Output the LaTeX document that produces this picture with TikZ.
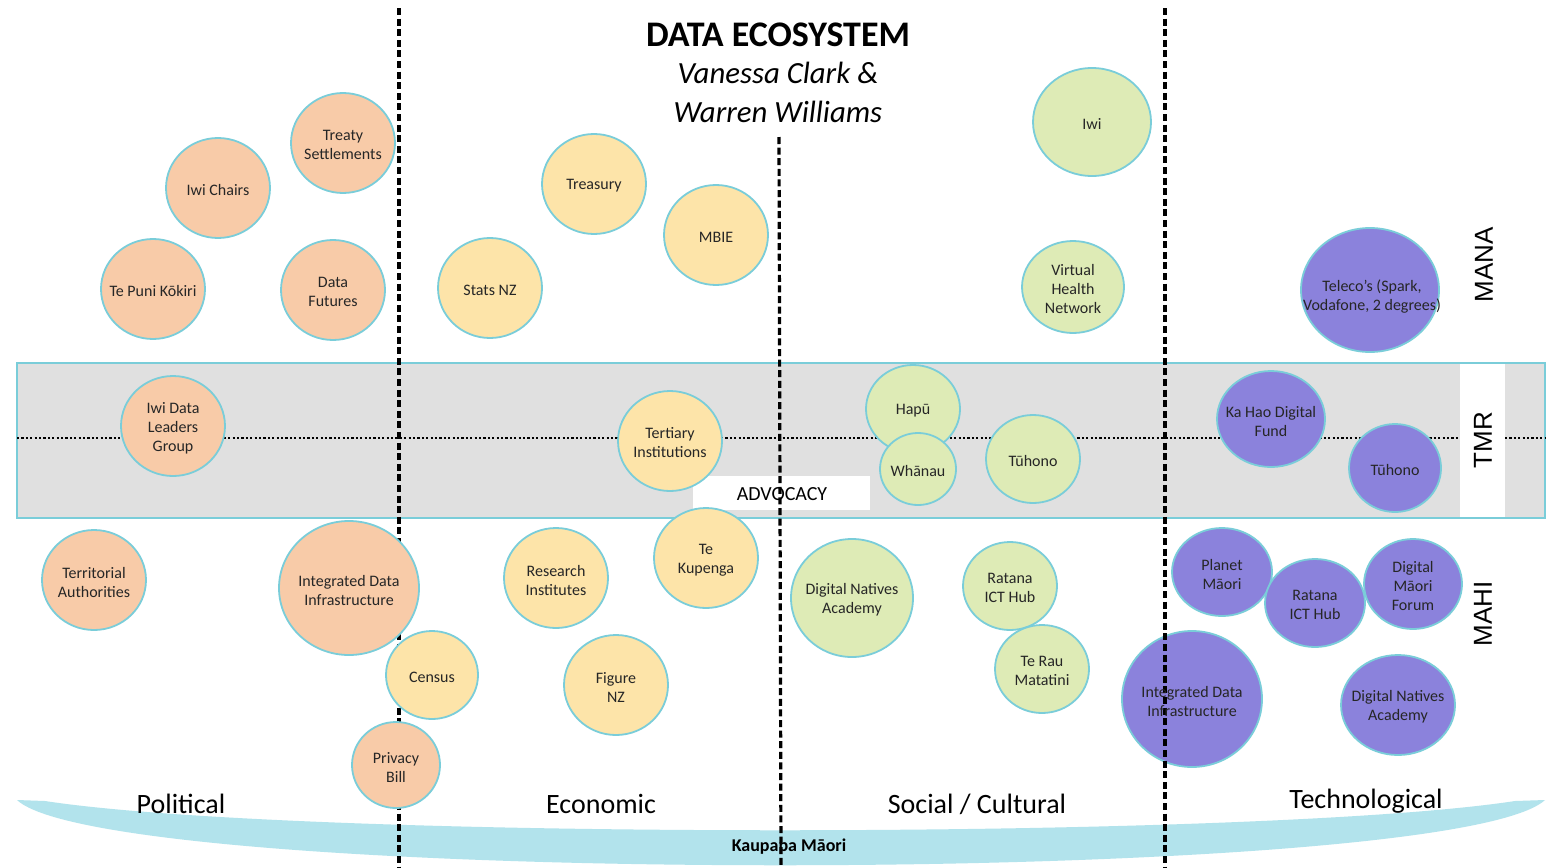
\documentclass[tikz,border=0pt]{standalone}
\usepackage{fontspec}
\setmainfont{Carlito}
\newfontfamily\arialf{Liberation Sans}
\usetikzlibrary{shapes.geometric}
\definecolor{peach}{HTML}{F8CBA8}
\definecolor{butter}{HTML}{FDE4A9}
\definecolor{lime}{HTML}{DEEBB6}
\definecolor{violet}{HTML}{8B82DC}
\definecolor{rim}{HTML}{7ACDD9}
\definecolor{bandgray}{HTML}{E0E0E0}
\definecolor{crescent}{HTML}{B2E3EC}
\newcommand{\bub}[7]{%
  \node[bubble, fill=#6, minimum width=#4pt, minimum height=#5pt] (#1) at (#2,#3) {};
  \node[btxt] (#1-t) at ([yshift=-1pt]#1) {#7};}
\begin{document}
\begin{tikzpicture}[x=0.5pt,y=-0.5pt,
  bubble/.style={ellipse, draw=rim, line width=0.9pt, inner sep=0pt},
  btxt/.style={align=center, font=\fontsize{8}{9.5}\selectfont, text=black!85, inner sep=0pt},
  vdash/.style={line width=1.6pt, dash pattern=on 3.5pt off 1.8pt},
  vdots/.style={line width=1.1pt, dash pattern=on 1.1pt off 1.1pt},
  axis/.style={font=\fontsize{14}{16}\selectfont},
  side/.style={font=\arialf\fontsize{13}{15}\selectfont, rotate=90}]
\useasboundingbox (0,0) rectangle (1556,867);
\fill[white] (0,0) rectangle (1556,867);
% bottom crescent
\fill[crescent] (17,800) -- (45,801) .. controls (300,840) and (1260,840) .. (1515,801) -- (1545,800)
  .. controls (1450,887) and (110,887) .. (17,800) -- cycle;
% band
\draw[fill=bandgray, draw=rim, line width=0.8pt] (17,363) rectangle (1545,518);
\fill[white] (1460,364) rectangle (1505,517);
\draw[vdots] (17,438) -- (1460,438);
\draw[vdots] (1505,438) -- (1545,438);
% advocacy box
\fill[white] (693,476) rectangle (870,510);
\node[font=\fontsize{10}{12}\selectfont] (adv) at (782,494) {ADVOCACY};
% left divider (under bubbles)
\draw[vdash] (399,8) -- (399,867);
% Political
\bub{treaty}{343}{143}{52}{50}{peach}{Treaty\\Settlements}
\bub{iwichairs}{218}{188}{52}{50}{peach}{Iwi Chairs}
\bub{tpk}{153}{289}{52}{50}{peach}{Te Puni Kōkiri}
\bub{datafut}{333}{290}{52}{50}{peach}{Data\\Futures}
\bub{iwidata}{173}{426}{52}{50}{peach}{Iwi Data\\Leaders\\Group}
\bub{territ}{94}{580}{52}{50}{peach}{Territorial\\Authorities}
\bub{idip}{349}{588}{70}{67}{peach}{Integrated Data\\Infrastructure}
\bub{privacy}{396}{765}{44}{43}{peach}{Privacy\\Bill}
% Economic
\bub{census}{432}{675}{46}{44}{butter}{Census}
\bub{treasury}{594}{184}{52}{50}{butter}{Treasury}
\bub{mbie}{716}{235}{52}{50}{butter}{MBIE}
\bub{statsnz}{490}{288}{52}{50}{butter}{Stats NZ}
\bub{tertiary}{670}{441}{52}{50}{butter}{Tertiary\\Institutions}
\bub{kupenga}{706}{558}{52}{50}{butter}{Te\\Kupenga}
\bub{research}{556}{578}{52}{50}{butter}{Research\\Institutes}
\bub{figure}{616}{685}{52}{50}{butter}{Figure\\NZ}
% Social / Cultural
\bub{iwi}{1092}{122}{59}{54}{lime}{Iwi}
\bub{vhn}{1073}{287}{51}{46}{lime}{Virtual\\Health\\Network}
\bub{hapu}{913}{409}{47}{44}{lime}{Hapū}
\bub{whanau}{918}{469}{38}{36}{lime}{Whānau}
\bub{tuhonog}{1033}{459}{47}{44}{lime}{Tūhono}
\bub{dnag}{852}{598}{61}{59}{lime}{Digital Natives\\Academy}
\bub{ratanag}{1010}{586}{47}{44}{lime}{Ratana\\ICT Hub}
\bub{terau}{1042}{669}{47}{44}{lime}{Te Rau\\Matatini}
% Technological
\bub{teleco}{1370}{290}{69}{62}{violet}{}
\node[btxt] (teleco-x) at (1372,297) {Teleco’s (Spark,\\Vodafone, 2 degrees)};
\bub{kahao}{1271}{419}{54}{48}{violet}{Ka Hao Digital\\Fund}
\bub{tuhonop}{1395}{468}{46}{44}{violet}{Tūhono}
\bub{planet}{1222}{572}{50}{44}{violet}{Planet\\Māori}
\bub{ratanap}{1315}{603}{50}{44}{violet}{Ratana\\ICT Hub}
\bub{dmf}{1413}{584}{49}{45}{violet}{Digital\\Māori\\Forum}
\bub{idiv}{1192}{699}{70}{68}{violet}{}
\bub{dnap}{1398}{705}{57}{50}{violet}{Digital Natives\\Academy}
% dividers on top
\draw[vdash] (779,137) -- (781,867);
\draw[vdash] (1165,8) -- (1165,867);
\node[btxt] (idiv-x) at (1192,701) {Integrated Data\\Infrastructure};
% title
\node[font=\bfseries\fontsize{18}{21}\selectfont] (title) at (778,35) {DATA ECOSYSTEM};
\node[font=\itshape\fontsize{15.4}{18}\selectfont] (auth1) at (778,73) {Vanessa Clark \&};
\node[font=\itshape\fontsize{15.4}{18}\selectfont] (auth2) at (778,112) {Warren Williams};
% side labels
\node[side] (mana) at (1484,265) {MANA};
\node[side] (tmr) at (1483,440) {TMR};
\node[side] (mahi) at (1483,614) {MAHI};
% axis labels
\node[axis] (pol) at (181,804) {Political};
\node[axis] (eco) at (601,804) {Economic};
\node[axis] (soc) at (977,804) {Social / Cultural};
\node[axis] (tech) at (1366,801) {Technological};
\node[font=\bfseries\fontsize{9}{11}\selectfont] (kaupapa) at (789,847) {Kaupapa Māori};
\end{tikzpicture}
\end{document}
